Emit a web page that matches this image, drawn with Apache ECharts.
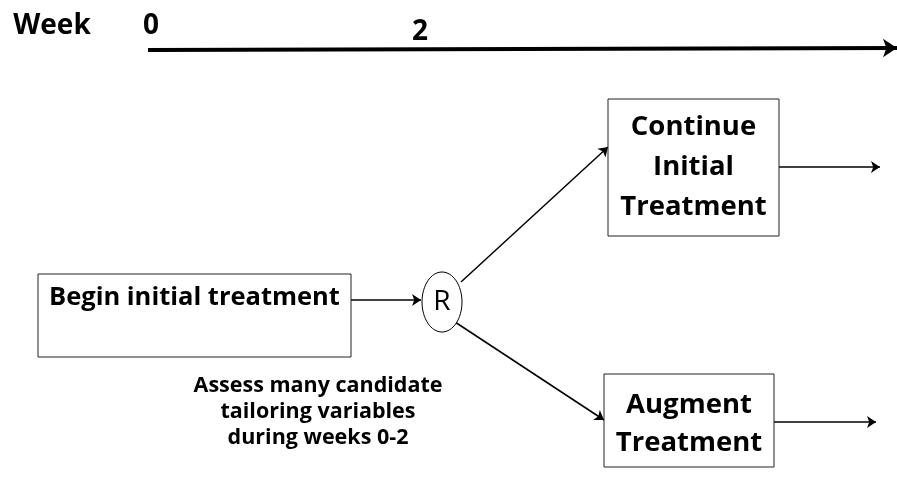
<!DOCTYPE html>
<html>
<head>
<meta charset="utf-8">
<script src="https://cdn.jsdelivr.net/npm/echarts@6/dist/echarts.min.js"></script>
<style>
  html, body { margin: 0; padding: 0; background: #fff; }
  #main { width: 897px; height: 477px; }
</style>
</head>
<body>
<div id="main"></div>
<script>
// diagram content
const weekTitle = "Week";
const weekTicks = ["0", "2"];
const boxLines = [
  ["Begin initial treatment"],
  ["Continue", "Initial", "Treatment"],
  ["Augment", "Treatment"],
];
const randomLabel = "R";
const noteLines = ["Assess many candidate", "tailoring variables", "during weeks 0-2"];

// layout in diagram units (x 0..897, y 0..477 downwards)
const timeline = [[148, 50], [897, 48]];
const weekTickPos = [[151, 26], [420, 32]];
const weekTitlePos = [52, 26];
const boxRects = [
  [38, 274, 351, 357],
  [608, 99, 779, 236],
  [604, 374, 774, 467],
];
const boxTextTop = [298, 127, 405];
const boxLineGap = [0, 40, 38];
const boxFont = [25.5, 27.5, 27.5];
const ellipse = [442, 302, 20, 30];
const notePos = [318, 386];
const arrows = [
  [[351, 300], [421, 300]],
  [[461, 282], [608, 147]],
  [[455, 322], [604, 420]],
  [[779, 167], [880, 167]],
  [[774, 422], [876, 422]],
];

const FONT = "'Open Sans'";

const myChart = echarts.init(document.getElementById("main"));

const option = {
  animation: false,
  grid: { left: 0, right: 0, top: 0, bottom: 0 },
  xAxis: { type: "value", min: 0, max: 897, show: false },
  yAxis: { type: "value", min: 0, max: 477, inverse: true, show: false },
  series: [
    // timeline arrow
    {
      type: "lines",
      coordinateSystem: "cartesian2d",
      symbol: ["none", "arrow"],
      symbolSize: 14,
      lineStyle: { color: "#000", width: 4, opacity: 1 },
      data: [{ coords: timeline }],
      z: 2,
    },
    // flow arrows
    {
      type: "lines",
      coordinateSystem: "cartesian2d",
      symbol: ["none", "arrow"],
      symbolSize: 9,
      lineStyle: { color: "#000", width: 1.5, opacity: 1 },
      data: arrows.map((c) => ({ coords: c })),
      z: 2,
    },
    // boxes
    {
      type: "custom",
      coordinateSystem: "cartesian2d",
      data: boxRects.map((r, i) => [r[0], r[1], r[2], r[3], i]),
      renderItem: function (params, api) {
        const i = api.value(4);
        const p0 = api.coord([api.value(0), api.value(1)]);
        const p1 = api.coord([api.value(2), api.value(3)]);
        const children = [
          {
            type: "rect",
            shape: { x: p0[0], y: p0[1], width: p1[0] - p0[0], height: p1[1] - p0[1] },
            style: { fill: "#fff", stroke: "#222", lineWidth: 1 },
          },
        ];
        const cx = (p0[0] + p1[0]) / 2;
        boxLines[i].forEach(function (t, k) {
          const pt = api.coord([0, boxTextTop[i] + k * boxLineGap[i]]);
          children.push({
            type: "text",
            style: {
              text: t,
              x: cx,
              y: pt[1],
              align: "center",
              verticalAlign: "middle",
              font: "bold " + boxFont[i] + "px " + FONT,
              fill: "#000",
            },
          });
        });
        return { type: "group", children: children };
      },
      z: 3,
    },
    // randomisation node
    {
      type: "custom",
      coordinateSystem: "cartesian2d",
      data: [ellipse],
      renderItem: function (params, api) {
        const c = api.coord([api.value(0), api.value(1)]);
        return {
          type: "group",
          children: [
            {
              type: "ellipse",
              shape: { cx: c[0], cy: c[1], rx: api.value(2), ry: api.value(3) },
              style: { fill: "#fff", stroke: "#000", lineWidth: 1 },
            },
            {
              type: "text",
              style: {
                text: randomLabel,
                x: c[0],
                y: c[1],
                align: "center",
                verticalAlign: "middle",
                font: "28px " + FONT,
                fill: "#000",
              },
            },
          ],
        };
      },
      z: 4,
    },
    // texts: week header and note
    {
      type: "custom",
      coordinateSystem: "cartesian2d",
      data: [[0]],
      renderItem: function (params, api) {
        const children = [];
        const wp = api.coord(weekTitlePos);
        children.push({
          type: "text",
          style: { text: weekTitle, x: wp[0], y: wp[1], align: "center", verticalAlign: "middle", font: "bold 28px " + FONT, fill: "#000" },
        });
        weekTicks.forEach(function (t, k) {
          const p = api.coord(weekTickPos[k]);
          children.push({
            type: "text",
            style: { text: t, x: p[0], y: p[1], align: "center", verticalAlign: "middle", font: "bold 28px " + FONT, fill: "#000" },
          });
        });
        noteLines.forEach(function (t, k) {
          const p = api.coord([notePos[0], notePos[1] + k * 26]);
          children.push({
            type: "text",
            style: { text: t, x: p[0], y: p[1], align: "center", verticalAlign: "middle", font: "bold 21.5px " + FONT, fill: "#000" },
          });
        });
        return { type: "group", children: children };
      },
      z: 5,
    },
  ],
};

myChart.setOption(option);
window.addEventListener("resize", () => {
  myChart.resize();
});
</script>
</body>
</html>
